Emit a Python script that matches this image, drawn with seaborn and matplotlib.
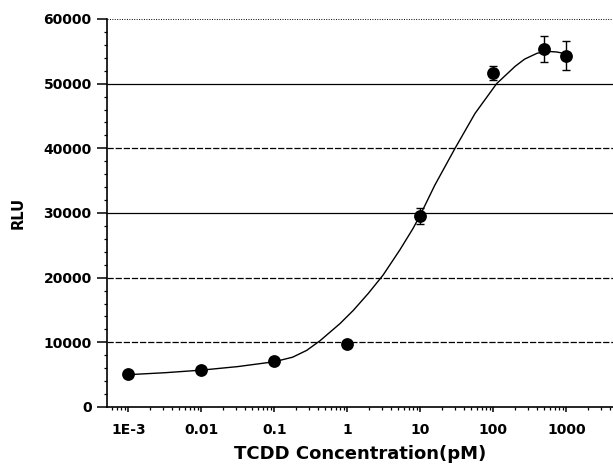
import numpy as np
import pandas as pd
import matplotlib
matplotlib.use("Agg")
import matplotlib.pyplot as plt
import matplotlib.ticker as mticker
import seaborn as sns

# measured points
conc = [0.001, 0.01, 0.1, 1, 10, 100, 500, 1000]
rlu = [5050, 5670, 7060, 9800, 29500, 51700, 55400, 54350]
rlu_err = [300, 300, 300, 300, 1200, 1100, 2000, 2200]

# fitted curve
curve_x = [0.001, 0.00316, 0.01, 0.0316, 0.1, 0.178, 0.278, 0.423, 0.794, 1.21,
           1.95, 3.09, 5.25, 7.94, 10, 15.8, 29.9, 56.2, 111, 200, 269, 398,
           537, 741, 1000]
curve_y = [5000, 5300, 5700, 6250, 7000, 7700, 8760, 10250, 12900, 14950,
           17600, 20400, 24300, 27600, 29700, 34300, 40000, 45400, 50000, 52700,
           53800, 54700, 55000, 54900, 54600]

x_ticks = [0.001, 0.01, 0.1, 1, 10, 100, 1000]
x_ticklabels = ["1E-3", "0.01", "0.1", "1", "10", "100", "1000"]
y_ticks = [0, 10000, 20000, 30000, 40000, 50000, 60000]
grid_vals = [10000, 20000, 30000, 40000, 50000, 60000]

sns.set_style("ticks")
plt.rcParams['font.family'] = ['DejaVu Sans']

fig = plt.figure(figsize=(6.13, 4.67), dpi=100)
ax = fig.add_axes([107/613, 1-407/467, 1-107/613, (407-19)/467])

grid_styles = {10000: (0, (5, 1.5)), 20000: (0, (5, 1.5)), 30000: '-',
               40000: (0, (5, 1.5)), 50000: '-', 60000: (0, (1, 1.5))}
for g in grid_vals:
    ax.axhline(g, color='black', lw=0.9 if g != 60000 else 0.7,
               ls=grid_styles[g], zorder=1)

curve_df = pd.DataFrame({"x": curve_x, "y": curve_y})
sns.lineplot(data=curve_df, x="x", y="y", ax=ax, color='black', lw=1.0,
             zorder=2, estimator=None, sort=True)

ax.errorbar(conc, rlu, yerr=rlu_err, fmt='none', ecolor='black',
            elinewidth=1.0, capsize=3, capthick=1.0, zorder=3)
pts = pd.DataFrame({"x": conc, "y": rlu})
sns.scatterplot(data=pts, x="x", y="y", ax=ax, color='black', s=85,
                edgecolor='black', linewidth=0, zorder=4)

ax.set_xscale('log')
ax.set_xlim(5.1e-4, 4365)
ax.set_ylim(0, 60000)

ax.set_xticks(x_ticks)
ax.set_xticklabels(x_ticklabels)
ax.xaxis.set_minor_locator(mticker.LogLocator(base=10, subs=np.arange(2, 10), numticks=100))
ax.xaxis.set_minor_formatter(mticker.NullFormatter())
ax.set_yticks(y_ticks)
ax.set_yticklabels([str(v) for v in y_ticks])
ax.yaxis.set_minor_locator(mticker.MultipleLocator(2000))

for lbl in ax.get_xticklabels() + ax.get_yticklabels():
    lbl.set_fontweight('bold')
    lbl.set_fontsize(10)
    lbl.set_color('black')

ax.tick_params(axis='y', which='major', direction='out', length=7, width=1.1, pad=4, colors='black')
ax.tick_params(axis='y', which='minor', direction='out', length=2.5, width=0.9, colors='black')
ax.tick_params(axis='x', which='major', direction='out', length=3.5, width=1.1, pad=8, colors='black')
ax.tick_params(axis='x', which='minor', direction='out', length=2, width=0.9, colors='black')

for s in ['top', 'right']:
    ax.spines[s].set_visible(False)
for s in ['left', 'bottom']:
    ax.spines[s].set_linewidth(1.2)
    ax.spines[s].set_color('black')

ax.set_xlabel("TCDD Concentration(pM)", fontsize=13, fontweight='bold', labelpad=6, color='black')
ax.set_ylabel("RLU", fontsize=10.5, fontweight='bold', labelpad=13, color='black')
ax.set_facecolor('white')

fig.savefig("out.png", dpi=100)
